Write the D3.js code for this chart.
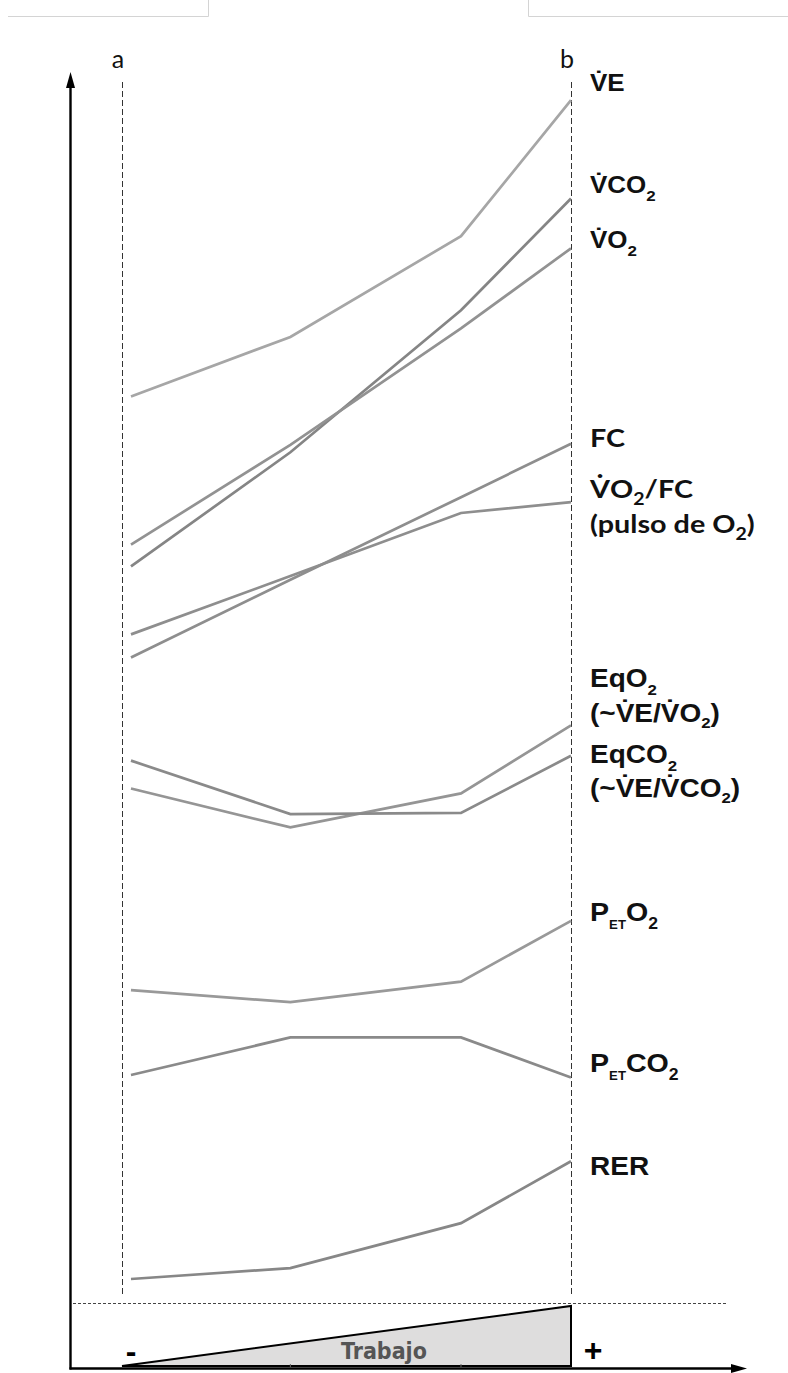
<!DOCTYPE html>
<html><head><meta charset="utf-8">
<script src="https://cdn.jsdelivr.net/npm/d3@7"></script>
<style>body{margin:0;background:#fff}svg{display:block}</style>
</head><body>
<svg id="c" width="788" height="1373"></svg>
<script>
// ---- data (arbitrary units, 0-100) ----
const stages = [2, 37.5, 75.5, 100];          // workload (% of max) at the four points
const VE     = [74.1, 79.0, 87.3, 98.5];
const VCO2   = [60.1, 69.5, 81.2, 90.4];
const VO2    = [61.9, 70.1, 79.7, 86.3];
const FC     = [52.6, 59.0, 65.8, 70.2];
const PULSO  = [54.5, 59.3, 64.5, 65.4];
const EqO2   = [41.8, 38.6, 41.4, 47.0];
const EqCO2  = [44.1, 39.7, 39.8, 44.5];
const PETO2  = [25.2, 24.2, 25.9, 30.9];
const PETCO2 = [18.2, 21.3, 21.3, 18.0];
const RER    = [1.4, 2.3, 6.0, 11.1];
const seriesNames  = ["VE","VCO2","VO2","FC","PULSO","EqO2","EqCO2","PETO2","PETCO2","RER"];
const seriesValues = [VE, VCO2, VO2, FC, PULSO, EqO2, EqCO2, PETO2, PETCO2, RER];
const workRamp = [0, 100];
const markerLabels = ["a", "b"];
const rampLabels = ["-", "+"];
const workLabel = "Trabajo";
const D = "\u0307";
const labelVE     = [["V"+D+"E","n"]];
const labelVCO2   = [["V"+D+"CO","n"],["2","sub"]];
const labelVO2    = [["V"+D+"O","n"],["2","sub"]];
const labelFC     = [["FC","n"]];
const labelPulso1 = [["V"+D+"O","n"],["2","sub"],["/FC","n"]];
const labelPulso2 = [["(pulso de O","n"],["2","sub"],[")","n"]];
const labelEqO2a  = [["EqO","n"],["2","sub"]];
const labelEqO2b  = [["(~V"+D+"E/V"+D+"O","n"],["2","sub"],[")","n"]];
const labelEqCO2a = [["EqCO","n"],["2","sub"]];
const labelEqCO2b = [["(~V"+D+"E/V"+D+"CO","n"],["2","sub"],[")","n"]];
const labelPETO2  = [["P","n"],["ET","et"],["O","n"],["2","sub"]];
const labelPETCO2 = [["P","n"],["ET","et"],["CO","n"],["2","sub"]];
const labelRER    = [["RER","n"]];

// ---- drawing ----
const svg = d3.select("#c");
const x = d3.scaleLinear().domain([0,100]).range([122,571]);
const y = d3.scaleLinear().domain([0,100]).range([1296,82]);
const yRamp = d3.scaleLinear().domain([0,100]).range([1366,1306]);

// page decoration (frame remnants at top)
svg.append("path").attr("d","M8,16.5H208.5V0").attr("fill","none").attr("stroke","#d4d4d4").attr("stroke-width",1);
svg.append("path").attr("d","M788,16.5H528.5V0").attr("fill","none").attr("stroke","#d4d4d4").attr("stroke-width",1);

// dashed reference verticals a and b
[0,100].forEach((v,i)=>{
  const xx = Math.round(x(v))+0.5;
  svg.append("line").attr("x1",xx).attr("x2",xx).attr("y1",y(100)).attr("y2",y(0))
    .attr("stroke","#333").attr("stroke-width",1).attr("stroke-dasharray","6,3");
  svg.append("text").attr("x",x(v)-4).attr("y",68).attr("text-anchor","middle")
    .attr("font-family","Lato").attr("font-size",25).attr("fill","#111").text(markerLabels[i]);
});

// dotted separator
svg.append("line").attr("x1",73).attr("x2",727).attr("y1",1303.5).attr("y2",1303.5)
  .attr("stroke","#444").attr("stroke-width",1).attr("stroke-dasharray","3,2");

// series lines
const colors = {VE:"#a6a6a6",VCO2:"#858585",VO2:"#929292",FC:"#8e8e8e",PULSO:"#8e8e8e",
  EqO2:"#959595",EqCO2:"#8a8a8a",PETO2:"#999999",PETCO2:"#8a8a8a",RER:"#878787"};
const line = d3.line().x((d,i)=>x(stages[i])).y(d=>y(d));
svg.append("g").selectAll("path").data(seriesValues).join("path")
  .attr("d", line).attr("fill","none")
  .attr("stroke",(d,i)=>colors[seriesNames[i]]).attr("stroke-width",2.7)
  .attr("stroke-linejoin","miter");

// work triangle
const tri = [[workRamp[0],0],[workRamp[1],100],[workRamp[1],0]];
svg.append("path").attr("d", "M"+tri.map(p=>[x(p[0]),yRamp(p[1])].join(",")).join("L")+"Z")
  .attr("fill","#dedddd").attr("stroke","#000").attr("stroke-width",2).attr("stroke-linejoin","miter");
svg.append("text").attr("x",384).attr("y",1359).attr("text-anchor","middle")
  .attr("font-family","DejaVu Sans Condensed, DejaVu Sans").attr("font-weight","bold")
  .attr("font-size",23).attr("fill","#555").text(workLabel);
svg.append("text").attr("x",131).attr("y",1362).attr("text-anchor","middle")
  .attr("font-family","Liberation Sans").attr("font-weight","bold").attr("font-size",32).attr("fill","#000").text(rampLabels[0]);
svg.append("text").attr("x",593).attr("y",1361).attr("text-anchor","middle")
  .attr("font-family","Liberation Sans").attr("font-weight","bold").attr("font-size",32).attr("fill","#000").text(rampLabels[1]);

// axes (no ticks) with arrowheads
const axY = d3.scaleLinear().range([1369,86]);
const axX = d3.scaleLinear().range([69,736]);
svg.append("g").attr("transform","translate(70,0)")
  .call(d3.axisLeft(axY).tickValues([]).tickSizeOuter(0))
  .select(".domain").attr("stroke","#000").attr("stroke-width",2.4);
svg.append("g").attr("transform","translate(0,1368)")
  .call(d3.axisBottom(axX).tickValues([]).tickSizeOuter(0))
  .select(".domain").attr("stroke","#000").attr("stroke-width",2.4);
svg.append("path").attr("d","M70.5,72L75,88L66,88Z").attr("fill","#000");
svg.append("path").attr("d","M747,1368.5L731,1364L731,1373Z").attr("fill","#000");
// small marks at intermediate stages on the x axis
[stages[1],stages[2]].forEach(s=>{
  svg.append("line").attr("x1",x(s)).attr("x2",x(s)).attr("y1",1364).attr("y2",1367)
    .attr("stroke","#666").attr("stroke-width",1);
});

// labels
function rich(x0, y0, segs, o){
  const t = svg.append("text").attr("transform",`translate(${x0},${y0}) scale(${o.sx},1)`)
    .attr("font-family",o.ff).attr("font-weight","bold").attr("font-size",o.fs).attr("fill","#111");
  let cur = 0;
  segs.forEach(([txt,role])=>{
    const off = role==="n"?0:(role==="sub"?o.subDy:o.etDy);
    const fs = role==="n"?o.fs:(role==="sub"?o.subFs:o.etFs);
    t.append("tspan").attr("dy",off-cur).attr("font-size",fs).text(txt);
    cur = off;
  });
}
const A1 = {ff:"Liberation Sans",fs:23,sx:1.13,subFs:15,subDy:8};
const A2 = {ff:"Liberation Sans",fs:25,sx:1.12,subFs:15,subDy:8};
const A3 = {ff:"Liberation Sans",fs:25,sx:1.12,subFs:15,subDy:6};
const P  = {ff:"Liberation Sans",fs:26,sx:1.1,subFs:16,subDy:8,etFs:12,etDy:8};
const L  = {ff:"Lato",fs:25,sx:1.15,subFs:17,subDy:7};
const LX = 590;
rich(LX, 91, labelVE, A1);
rich(LX, 193, labelVCO2, A1);
rich(LX, 248, labelVO2, A1);
rich(LX, 447, labelFC, L);
rich(LX, 498, labelPulso1, L);
rich(LX, 533, labelPulso2, L);
rich(LX, 687, labelEqO2a, A2);
rich(LX, 722, labelEqO2b, A3);
rich(LX, 763, labelEqCO2a, A2);
rich(LX, 797, labelEqCO2b, A3);
rich(LX, 921, labelPETO2, P);
rich(LX, 1072, labelPETCO2, P);
rich(LX, 1175, labelRER, A2);
</script>
</body></html>
